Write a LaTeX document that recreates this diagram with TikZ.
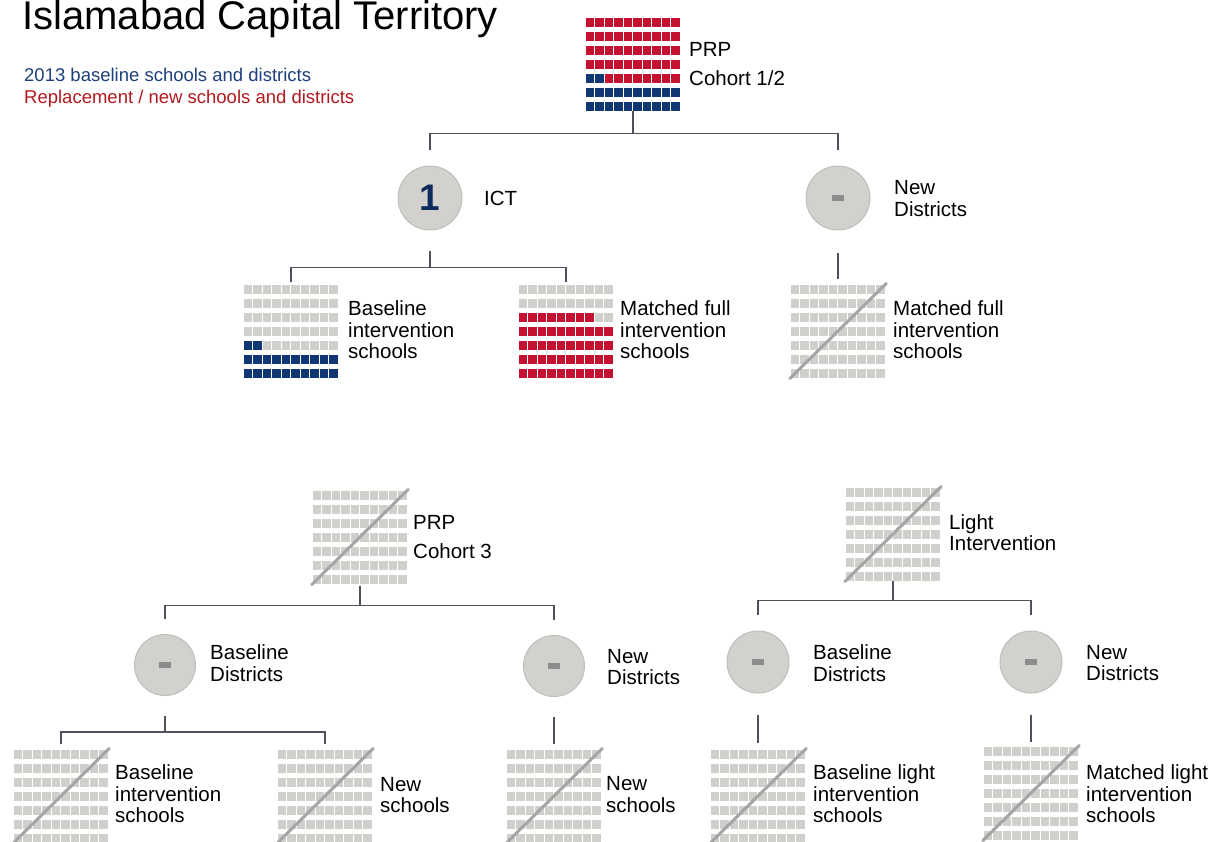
\documentclass[tikz,border=0pt]{standalone}
\usepackage{fontspec}
\setmainfont{Liberation Sans}
\usetikzlibrary{calc}

\definecolor{gridgray}{RGB}{208,207,204}
\definecolor{gridblue}{RGB}{14,55,115}
\definecolor{gridred}{RGB}{196,18,48}
\definecolor{legblue}{RGB}{30,64,124}
\definecolor{legred}{RGB}{178,24,30}
\definecolor{discfill}{RGB}{211,209,206}
\definecolor{discedge}{RGB}{192,190,187}
\definecolor{dashgray}{RGB}{140,140,140}
\definecolor{connline}{RGB}{80,80,92}
\definecolor{crossgray}{RGB}{165,165,165}
\definecolor{onecol}{RGB}{13,44,92}

\tikzset{
  gridbox/.style={rectangle, inner sep=0pt, minimum width=94pt, minimum height=92.7pt},
  disc/.style={circle, fill=discfill, draw=discedge, line width=1pt, minimum size=#1, inner sep=0pt},
  disc/.default=62pt,
  conn/.style={draw=connline, line width=1.3pt},
  lbl/.style={anchor=west, inner sep=0pt, align=left, font=\fontsize{20.5}{21.5}\selectfont},
  crossline/.style={draw=crossgray, line width=3pt, line cap=round},
}

% 10 x 7 grid of squares; the first #4 cells (counted from the bottom row,
% left to right) take colour #3, the rest colour #5
\newcommand{\cellgrid}[5]{%
  \node[gridbox] (#1) at (#2) {};
  \foreach \r in {0,...,6}{%
    \foreach \c in {0,...,9}{%
      \pgfmathtruncatemacro{\idx}{10*\r+\c}%
      \ifnum\idx<#4\relax\def\cellcol{#3}\else\def\cellcol{#5}\fi
      \fill[\cellcol] ($(#1.south west)+(\c*9.5,-\r*14)$) rectangle ++(8.5,-8.7);
    }%
  }%
}
% empty (struck-through) grid
\newcommand{\crossgrid}[2]{%
  \cellgrid{#1}{#2}{gridgray}{0}{gridgray}%
  \draw[crossline] ($(#1.south west)+(-1,1)$) -- ($(#1.north east)+(1,-1)$);
}
% district disc with a dash
\newcommand{\dashdisc}[3]{%
  \node[disc=#3] (#1) at (#2) {};
  \fill[dashgray] ($(#1.center)+(-6,-3)$) rectangle ($(#1.center)+(6,3)$);
}

\begin{document}
\begin{tikzpicture}[x=1pt, y=-1pt]
\useasboundingbox (0,0) rectangle (1212,841);
\fill[white] (0,0) rectangle (1212,841);

% title and legend
\node[anchor=base west, inner sep=0pt, font=\fontsize{40}{40}\selectfont] (title) at (22,29) {Islamabad Capital Territory};
\node[anchor=base west, inner sep=0pt, font=\fontsize{18.5}{18.5}\selectfont, text=legblue] (leg1) at (24,81) {2013 baseline schools and districts};
\node[anchor=base west, inner sep=0pt, font=\fontsize{18.5}{18.5}\selectfont, text=legred] (leg2) at (24,103) {Replacement / new schools and districts};

% ---------- PRP cohort 1/2 ----------
\cellgrid{prp12}{633,64}{gridblue}{22}{gridred}
\node[lbl, font=\fontsize{20.5}{29}\selectfont] (prp12t) at (689,64.5) {PRP\\Cohort 1/2};

\node[disc=64pt] (ict) at (430,198) {\fontsize{37}{37}\selectfont\bfseries\color{onecol}1};
\node[lbl] (ictt) at (484,198) {ICT};
\dashdisc{nd1}{838,198}{64pt}
\node[lbl] (nd1t) at (894,198.5) {New\\Districts};

\coordinate (b1) at ($(prp12.south)+(0,23)$);
\draw[conn] (prp12.south) -- (b1);
\draw[conn] ($(ict.north)+(0,-16)$) |- (b1) -| ($(nd1.north)+(0,-16)$);

\cellgrid{bis}{291,331}{gridblue}{22}{gridgray}
\node[lbl] (bist) at (348,330) {Baseline\\intervention\\schools};
\cellgrid{mfs}{566,331}{gridred}{48}{gridgray}
\node[lbl] (mfst) at (620,330) {Matched full\\intervention\\schools};
\crossgrid{nmf}{838,331}
\node[lbl] (nmft) at (893,330) {Matched full\\intervention\\schools};

\coordinate (b2) at ($(ict.south)+(0,37)$);
\draw[conn] ($(ict.south)+(0,20)$) -- (b2);
\draw[conn] ($(bis.north)+(0,-2)$) |- (b2) -| ($(mfs.north)+(0,-2)$);
\draw[conn] ($(nd1.south)+(0,22)$) -- ($(nmf.north)+(0,-5)$);

% ---------- PRP cohort 3 ----------
\crossgrid{prp3}{360,537}
\node[lbl, font=\fontsize{20.5}{29}\selectfont] (prp3t) at (413,537.5) {PRP\\Cohort 3};

\dashdisc{bd1}{165,665}{61pt}
\node[lbl] (bd1t) at (210,663) {Baseline\\Districts};
\dashdisc{nd2}{554,666}{61pt}
\node[lbl] (nd2t) at (607,667) {New\\Districts};

\coordinate (b3) at ($(prp3.south)+(0,22)$);
\draw[conn] ($(prp3.south)+(0,2)$) -- (b3);
\draw[conn] ($(bd1.north)+(0,-15)$) |- (b3) -| ($(nd2.north)+(0,-15)$);

\crossgrid{bis2}{61,796}
\node[lbl] (bis2t) at (115,794) {Baseline\\intervention\\schools};
\crossgrid{ns1}{325,796}
\node[lbl] (ns1t) at (380,795) {New\\schools};
\crossgrid{ns2}{554,796}
\node[lbl] (ns2t) at (606,794.5) {New\\schools};

\coordinate (b5) at ($(bd1.south)+(0,36)$);
\draw[conn] ($(bd1.south)+(0,20)$) -- (b5);
\draw[conn] ($(bis2.north)+(0,-5)$) |- (b5) -| ($(ns1.north)+(0,-5)$);
\draw[conn] ($(nd2.south)+(0,20)$) -- ($(ns2.north)+(0,-5)$);

% ---------- Light intervention ----------
\crossgrid{li}{893,534}
\node[lbl] (lit) at (949,532.5) {Light\\Intervention};

\dashdisc{bd2}{758,662}{62pt}
\node[lbl] (bd2t) at (813,663) {Baseline\\Districts};
\dashdisc{nd3}{1031,662}{62pt}
\node[lbl] (nd3t) at (1086,663) {New\\Districts};

\coordinate (b4) at ($(li.south)+(0,20)$);
\draw[conn] (li.south) -- (b4);
\draw[conn] ($(bd2.north)+(0,-16)$) |- (b4) -| ($(nd3.north)+(0,-16)$);

\crossgrid{blis}{758,796}
\node[lbl] (blist) at (813,794) {Baseline light\\intervention\\schools};
\crossgrid{mlis}{1031,793}
\node[lbl] (mlist) at (1086,794) {Matched light\\intervention\\schools};

\draw[conn] ($(bd2.south)+(0,21)$) -- ($(blis.north)+(0,-6)$);
\draw[conn] ($(nd3.south)+(0,21)$) -- ($(mlis.north)+(0,-4)$);
\end{tikzpicture}
\end{document}
